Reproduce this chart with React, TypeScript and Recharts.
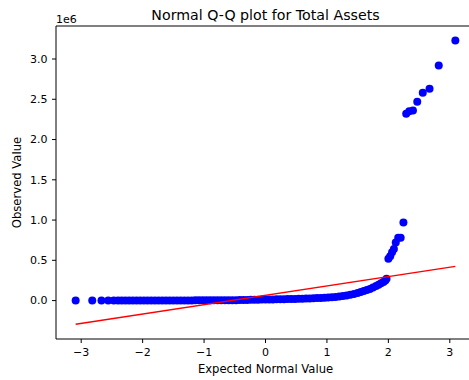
import { ScatterChart, Scatter, XAxis, YAxis, ReferenceLine } from "recharts";

// theoretical normal quantiles (x) and sorted observed values (y)
const theoQuantiles = [
  -3.09, -2.82, -2.67, -2.56, -2.47, -2.4, -2.34, -2.28, -2.22, -2.16, -2.1, -2.04,
  -1.98, -1.92, -1.86, -1.8, -1.74, -1.68, -1.62, -1.56, -1.5, -1.44, -1.38, -1.32,
  -1.26, -1.2, -1.14, -1.08, -1.02, -0.96, -0.9, -0.84, -0.78, -0.72, -0.66, -0.6,
  -0.54, -0.48, -0.42, -0.36, -0.3, -0.24, -0.18, -0.12, -0.06, 0, 0.06, 0.12, 0.18,
  0.24, 0.3, 0.36, 0.42, 0.48, 0.54, 0.6, 0.66, 0.72, 0.78, 0.84, 0.9, 0.96, 1.02,
  1.08, 1.14, 1.2, 1.26, 1.32, 1.38, 1.44, 1.5, 1.55, 1.6, 1.65, 1.7, 1.75, 1.8,
  1.84, 1.88, 1.92, 1.95, 1.97, 2.0, 2.03, 2.06, 2.09, 2.12, 2.16, 2.2, 2.245,
  2.29, 2.34, 2.4, 2.47, 2.56, 2.67, 2.82, 3.09,
];
const observedValues = [
  0, 0, 0, 0, 0, 0, 0, 0, 500, 500, 500, 800,
  800, 1000, 1000, 1200, 1200, 1500, 1500, 1800, 1800, 2000, 2000, 2200,
  2400, 2500, 2700, 2900, 3000, 3200, 3400, 3600, 3800, 4000, 4300, 4600,
  5000, 5400, 5800, 6300, 8000, 9000, 10000, 11000, 12000, 13000, 14000, 15000, 16000,
  17000, 18000, 19000, 20000, 21000, 22000, 24000, 25000, 27000, 29000, 31000, 33000, 36000, 39000,
  42000, 46000, 51000, 57000, 64000, 73000, 83000, 95000, 106000, 118000, 131000, 145000, 162000, 181000,
  198000, 215000, 232000, 250000, 270000, 520000, 550000, 600000, 640000, 720000, 780000, 780000, 970000,
  2320000, 2350000, 2360000, 2470000, 2580000, 2630000, 2920000, 3230000,
];
const fitX = [-3.09, 3.09];
const fitY = [-295000, 425000];
const xTicks = [-3, -2, -1, 0, 1, 2, 3];
const yTicks = [0, 500000, 1000000, 1500000, 2000000, 2500000, 3000000];

const points = theoQuantiles.map((x, i) => ({ x, y: observedValues[i] }));
const fitLine = fitX.map((x, i) => ({ x, y: fitY[i] }));

const font = "'DejaVu Sans', sans-serif";
const tickStyle = { fill: "#000", fontSize: 11, fontFamily: font };

export default function App() {
  return (
    <div
      style={{
        position: "absolute",
        left: 0,
        top: 0,
        width: 469,
        height: 380,
        overflow: "hidden",
        background: "#fff",
      }}
    >
      <ScatterChart width={480} height={380} margin={{ top: 26, right: 5, bottom: 0, left: 0 }}>
        <XAxis
          type="number"
          dataKey="x"
          domain={[-3.41, 3.41]}
          allowDataOverflow
          ticks={xTicks}
          tickFormatter={(v) => String(v).replace("-", "\u2212")}
          height={41}
          tickSize={4}
          tickMargin={5}
          tick={tickStyle}
          stroke="#000"
          label={{
            value: "Expected Normal Value",
            position: "insideBottom",
            offset: 7,
            style: { fill: "#000", fontSize: 11.6, fontFamily: font },
          }}
        />
        <YAxis
          type="number"
          dataKey="y"
          domain={[-477000, 3410000]}
          allowDataOverflow
          ticks={yTicks}
          tickFormatter={(v) => (v / 1e6).toFixed(1)}
          width={56}
          tickSize={4}
          tickMargin={4.5}
          tick={tickStyle}
          stroke="#000"
          label={{
            value: "Observed Value",
            angle: -90,
            position: "insideLeft",
            offset: 17,
            style: { textAnchor: "middle", fill: "#000", fontSize: 11.6, fontFamily: font },
          }}
        />
        <ReferenceLine y={3410000} stroke="#000" />
        <ReferenceLine x={3.41} stroke="#000" />
        <Scatter
          data={points}
          isAnimationActive={false}
          shape={(p: any) => <circle cx={p.cx} cy={p.cy} r={4} fill="#0000ff" />}
        />
        <Scatter
          data={fitLine}
          isAnimationActive={false}
          line={{ stroke: "#ff0000", strokeWidth: 1.5 }}
          shape={() => <g />}
        />
      </ScatterChart>
      <svg
        width={469}
        height={380}
        style={{ position: "absolute", left: 0, top: 0, pointerEvents: "none" }}
      >
        <text x={265.5} y={19.5} textAnchor="middle" fontSize={14.2} fontFamily={font} fill="#000">
          Normal Q-Q plot for Total Assets
        </text>
        <text x={56} y={23} fontSize={11} fontFamily={font} fill="#000">
          1e6
        </text>
      </svg>
    </div>
  );
}
